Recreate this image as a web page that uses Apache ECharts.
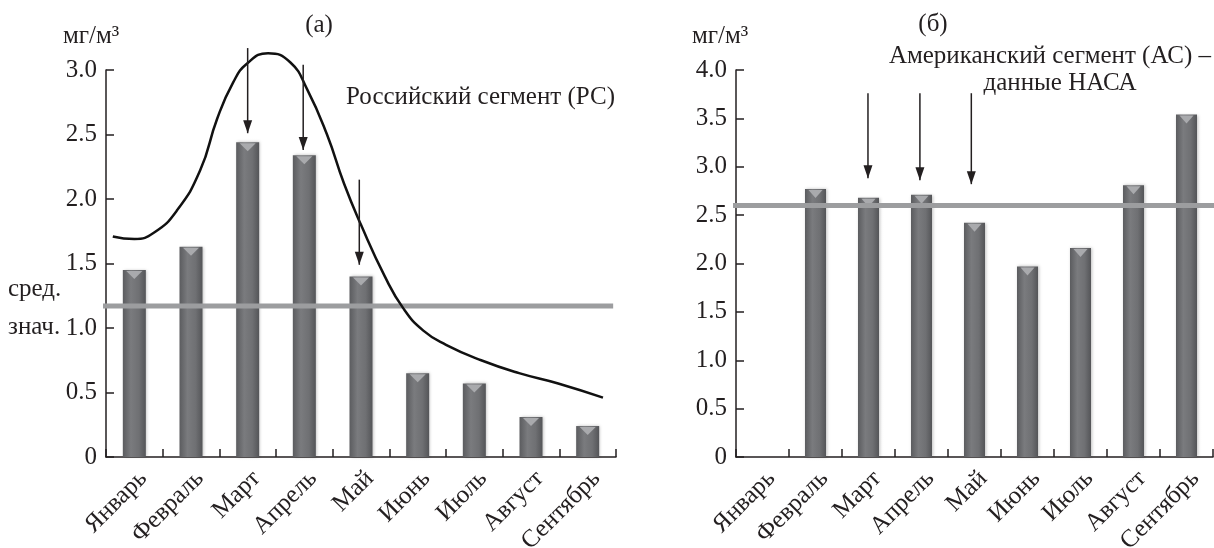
<!DOCTYPE html>
<html><head><meta charset="utf-8">
<script src="https://cdn.jsdelivr.net/npm/echarts@6/dist/echarts.min.js"></script>
<style>html,body{margin:0;padding:0;background:#fff}#c{width:1214px;height:548px}</style>
</head><body><div id="c"></div>
<script>
// ---- data ----
const months = ['Январь','Февраль','Март','Апрель','Май','Июнь','Июль','Август','Сентябрь'];
const rsValues = [1.45, 1.63, 2.44, 2.34, 1.40, 0.65, 0.57, 0.31, 0.24];
const usValues = [null, 2.77, 2.68, 2.71, 2.42, 1.97, 2.16, 2.81, 3.54];
const rsMean = 1.17;
const usMean = 2.6;
// smooth envelope curve (x in category units from the left edge, y in mg/m3)
const rsCurve = [[0.12,1.71],[0.5,1.69],[0.85,1.74],[1.25,1.91],[1.66,2.22],[1.96,2.62],[2.24,2.90],[2.49,3.05],[2.86,3.13],[3.25,3.06],[3.55,2.85],[3.9,2.50],[4.2,2.12],[4.5,1.80],[4.92,1.40],[5.25,1.15],[5.6,0.98],[6.0,0.87],[6.62,0.75],[7.29,0.65],[7.98,0.57],[8.77,0.46]];
// arrows: [x, from y, to y]
const rsArrows = [[2.5,3.17,2.51],[3.48,3.04,2.38],[4.47,2.15,1.49]];
const usArrows = [[2.49,3.76,2.88],[3.47,3.76,2.86],[4.44,3.76,2.82]];
// mean line extents (x in category units)
const rsMeanSpan = [-1.69, 8.95];
const usMeanSpan = [-1.77, 9.02];
const rsAxisMax = 3.0, usAxisMax = 4.0, tickStep = 0.5;

const FONT = 'Liberation Serif';
const INK = '#231f20';
(function(){ const c = document.createElement('canvas').getContext('2d');
  ['25px "Liberation Serif"'].forEach(f => { c.font = f; c.measureText('Январь 0.5 мг/м³'); }); })();

const barColor = {type:'linear',x:0,y:0,x2:1,y2:0,colorStops:[
  {offset:0,color:'#5b5c5f'},{offset:0.35,color:'#7a7b7e'},{offset:0.7,color:'#6f7073'},{offset:1,color:'#545558'}]};
const triPath = 'path://M0,0L10,0L5,6Z';
const arrowPath = 'path://M0,0L8,0L4,12Z';

function yAxisFor(gi, max){
  return {gridIndex:gi, type:'value', min:0, max:max, interval:tickStep,
    axisLine:{show:true, lineStyle:{color:INK, width:1.5}},
    axisTick:{show:true, inside:true, length:8, lineStyle:{color:INK, width:1.5}},
    splitLine:{show:false},
    axisLabel:{color:INK, fontFamily:FONT, fontSize:25, margin:9,
      formatter:v => v === 0 ? '0' : v.toFixed(1)}};
}
function catAxisFor(gi){
  return {gridIndex:gi, type:'category', data:months,
    axisLine:{show:true, lineStyle:{color:INK, width:1.5}},
    axisTick:{show:true, inside:true, length:8, lineStyle:{color:INK, width:1.5}},
    axisLabel:{interval:0, rotate:45, color:INK, fontFamily:FONT, fontSize:25, margin:9, verticalAlign:'top'}};
}
function valAxisFor(gi){
  return {gridIndex:gi, type:'value', min:0, max:9, show:false};
}
function barsFor(xi, yi, values, width){
  return [
    {type:'bar', xAxisIndex:xi, yAxisIndex:yi, data:values, barWidth:width, silent:true,
     itemStyle:{color:barColor, shadowColor:'rgba(0,0,0,0.25)', shadowBlur:3, shadowOffsetX:1}},
    {type:'pictorialBar', xAxisIndex:xi, yAxisIndex:yi, data:values, silent:true, z:3,
     symbol:triPath, symbolSize:[width-7,8], symbolPosition:'end', symbolOffset:[0,1],
     itemStyle:{color:'#a9aaad'}}
  ];
}
function meanFor(xi, yi, span, mean){
  return {type:'line', xAxisIndex:xi, yAxisIndex:yi, clip:false, silent:true, symbol:'none', z:4,
    lineStyle:{color:'#9c9d9f', width:5}, data:[[span[0],mean],[span[1],mean]]};
}
function arrowsFor(xi, yi, arr){
  return arr.map(a => ({type:'line', xAxisIndex:xi, yAxisIndex:yi, clip:false, silent:true, z:6,
    showSymbol:true, lineStyle:{color:INK, width:1.5}, itemStyle:{color:INK},
    data:[{value:[a[0],a[1]], symbol:'none'},
          {value:[a[0],a[2]], symbol:arrowPath, symbolSize:[9,13], symbolOffset:[0,'-50%']}]}));
}

const series = [].concat(
  barsFor(0, 0, rsValues, 23),
  [meanFor(1, 0, rsMeanSpan, rsMean)],
  [{type:'line', xAxisIndex:1, yAxisIndex:0, clip:false, silent:true, smooth:0.5, symbol:'none', z:5,
    lineStyle:{color:'#111', width:2.5}, data:rsCurve}],
  arrowsFor(1, 0, rsArrows),
  barsFor(2, 1, usValues, 21),
  [meanFor(3, 1, usMeanSpan, usMean)],
  arrowsFor(3, 1, usArrows)
);

function txt(x, y, text, size, align){
  return {type:'text', x:x, y:y, silent:true, z:10,
    style:{text:text, fill:INK, fontFamily:FONT, fontSize:size, align:align||'left', verticalAlign:'middle'}};
}

const option = {
  animation:false,
  backgroundColor:'#fff',
  textStyle:{fontFamily:FONT},
  grid:[{left:106, top:70, width:510, height:387, outerBoundsMode:'none', containLabel:false},
        {left:736, top:70, width:477, height:387, outerBoundsMode:'none', containLabel:false}],
  xAxis:[catAxisFor(0), valAxisFor(0), catAxisFor(1), valAxisFor(1)],
  yAxis:[yAxisFor(0, rsAxisMax), yAxisFor(1, usAxisMax)],
  series:series,
  graphic:[
    txt(63, 36, 'мг/м³', 25),
    txt(319, 25, '(а)', 25, 'center'),
    txt(346, 97, 'Российский сегмент (РС)', 25),
    txt(8, 289, 'сред.', 25),
    txt(8, 327, 'знач.', 25),
    txt(692, 36, 'мг/м³', 25),
    txt(933, 24, '(б)', 25, 'center'),
    txt(1211, 56, 'Американский сегмент (АС) –', 25, 'right'),
    txt(1060, 83, 'данные НАСА', 25, 'center')
  ]
};
const chart = echarts.init(document.getElementById('c'), null, {renderer:'canvas'});
chart.setOption(option);
if (document.fonts && document.fonts.ready) {
  document.fonts.ready.then(() => { chart.clear(); chart.setOption(option); });
}
</script></body></html>
